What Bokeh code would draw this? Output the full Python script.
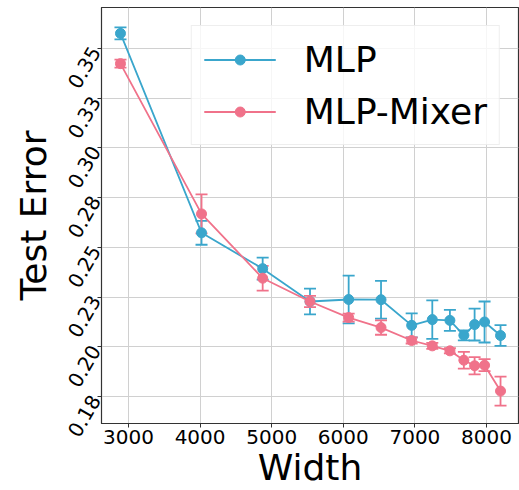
import math
from bokeh.plotting import figure
from bokeh.models import (ColumnDataSource, Whisker, TeeHead, Legend, LegendItem,
                          FixedTicker, Range1d)
from bokeh.embed import file_html
from bokeh.resources import INLINE

# ---- data ----
widths = [2888, 4020, 4874, 5535, 6075, 6527, 6955, 7243, 7489, 7684, 7834, 7973, 8196]
mlp_mean = [0.3575, 0.2573, 0.2393, 0.2228, 0.2238, 0.2237, 0.2108, 0.2137, 0.2133, 0.2058, 0.2112, 0.2125, 0.2057]
mlp_err = [0.003, 0.006, 0.0055, 0.0065, 0.012, 0.0095, 0.006, 0.0097, 0.0053, 0.0025, 0.008, 0.0103, 0.0052]
mixer_mean = [0.3423, 0.2668, 0.2345, 0.2228, 0.2147, 0.2097, 0.2032, 0.2005, 0.198, 0.1933, 0.1905, 0.1908, 0.1778]
mixer_err = [0.002, 0.0098, 0.0062, 0.0028, 0.002, 0.0036, 0.0015, 0.0015, 0.0013, 0.0042, 0.0043, 0.003, 0.0073]

series_names = ["MLP", "MLP-Mixer"]
series_colors = ["#3AA6CC", "#F0728A"]

x_tick_values = [3000, 4000, 5000, 6000, 7000, 8000]
y_tick_values = [0.175, 0.2, 0.225, 0.25, 0.275, 0.3, 0.325, 0.35]
y_tick_labels = ["0.18", "0.20", "0.23", "0.25", "0.28", "0.30", "0.33", "0.35"]

FONT = "DejaVu Sans"

p = figure(width=519, height=490, output_backend="svg", toolbar_location=None,
           x_range=Range1d(2623, 8447), y_range=Range1d(0.1615, 0.3705),
           min_border_left=101, min_border_top=7, min_border_right=1, min_border_bottom=0)

p.outline_line_color = "#333333"
p.outline_line_width = 1.2
p.background_fill_color = "white"
p.border_fill_color = "white"

for ax in (p.xaxis[0], p.yaxis[0]):
    ax.major_label_text_font = FONT
    ax.major_label_text_font_size = "20px"
    ax.major_label_text_color = "black"
    ax.major_label_text_line_height = 1.0
    ax.axis_label_text_font = FONT
    ax.axis_label_text_font_size = "36px"
    ax.axis_label_text_font_style = "normal"
    ax.axis_label_text_color = "black"
    ax.axis_label_text_line_height = 1.0
    ax.axis_line_color = "#333333"
    ax.major_tick_line_color = "#333333"
    ax.major_tick_in = 0
    ax.major_tick_out = 4
    ax.minor_tick_line_color = None
    ax.major_label_standoff = 2
    ax.axis_label_standoff = 0

p.yaxis.axis_label_standoff = 4
p.xaxis.axis_label = "Width"
p.yaxis.axis_label = "Test Error"
p.xaxis.ticker = FixedTicker(ticks=x_tick_values)
p.yaxis.ticker = FixedTicker(ticks=y_tick_values)
p.yaxis.major_label_overrides = {v: l for v, l in zip(y_tick_values, y_tick_labels)}
p.yaxis.major_label_orientation = math.pi / 3

p.grid.grid_line_color = "#d0d0d0"
p.grid.grid_line_width = 1

items = []
for name, color, mean, err in [
    (series_names[0], series_colors[0], mlp_mean, mlp_err),
    (series_names[1], series_colors[1], mixer_mean, mixer_err),
]:
    src = ColumnDataSource(dict(
        x=widths, y=mean,
        lower=[m - e for m, e in zip(mean, err)],
        upper=[m + e for m, e in zip(mean, err)],
    ))
    w = Whisker(base="x", upper="upper", lower="lower", source=src,
                line_color=color, line_width=1.8,
                upper_head=TeeHead(size=12, line_color=color, line_width=1.8),
                lower_head=TeeHead(size=12, line_color=color, line_width=1.8))
    p.add_layout(w)
    lr = p.line("x", "y", source=src, line_color=color, line_width=1.8)
    sr = p.scatter("x", "y", source=src, size=10, fill_color=color, line_color=color)
    items.append(LegendItem(label=name, renderers=[lr, sr]))

legend = Legend(items=items, location="top_right", margin=18,
                label_text_font=FONT, label_text_font_size="36px",
                label_text_color="black",
                glyph_width=72, glyph_height=25, label_height=42,
                label_standoff=28, spacing=10, padding=12,
                border_line_color="#dddddd", border_line_width=1,
                background_fill_color="white", background_fill_alpha=0.8)
p.add_layout(legend)

open("out.html", "w").write(file_html(p, INLINE))
